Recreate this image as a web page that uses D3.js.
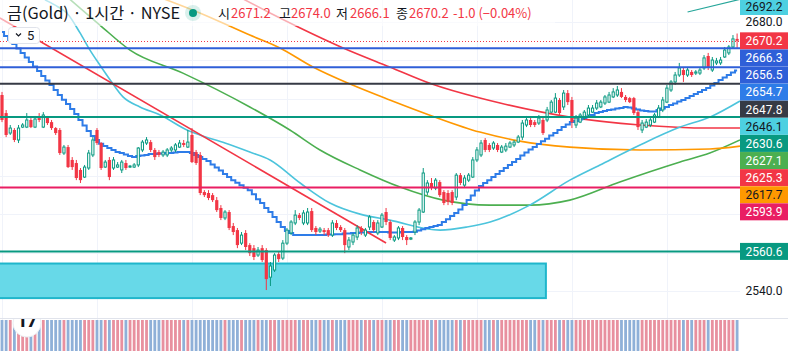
<!DOCTYPE html>
<html><head><meta charset="utf-8">
<script src="https://cdn.jsdelivr.net/npm/d3@7"></script>
<style>html,body{margin:0;padding:0;background:#fff;overflow:hidden}svg{display:block}</style>
</head><body><svg id="c" width="788" height="351"></svg>
<script>
// ---------- DATA ----------
const opens=[2642.0,2632.6,2622.2,2623.8,2618.6,2625.3,2625.3,2629.0,2625.3,2630.0,
2625.3,2630.0,2627.9,2624.8,2623.8,2611.8,2614.9,2608.2,2606.6,2603.0,
2599.3,2604.0,2610.8,2623.8,2617.0,2604.5,2608.2,2604.0,2604.5,2603.0,
2606.6,2604.5,2604.5,2605.6,2613.4,2617.0,2617.5,2613.4,2612.3,2610.8,
2610.8,2613.4,2613.4,2614.9,2617.0,2614.9,2621.2,2612.3,2610.8,2591.5,
2591.0,2589.9,2587.3,2583.2,2578.0,2581.1,2573.8,2571.7,2564.9,2570.2,
2563.9,2562.3,2558.7,2562.3,2561.3,2547.2,2550.9,2559.2,2557.1,2564.9,
2570.2,2575.4,2579.5,2575.4,2575.4,2581.6,2572.8,2571.2,2571.7,2571.7,
2569.1,2575.4,2573.3,2571.7,2562.9,2565.5,2568.1,2572.8,2569.1,2573.3,
2575.9,2570.2,2573.3,2581.1,2575.9,2566.5,2567.6,2572.8,2568.1,2567.0,
2570.7,2575.9,2581.1,2591.5,2596.2,2593.6,2596.7,2591.5,2591.0,2591.5,
2588.9,2600.3,2595.1,2597.7,2599.3,2608.2,2610.8,2618.6,2616.0,2614.4,
2616.0,2612.3,2613.4,2614.9,2616.0,2617.5,2620.1,2626.4,2629.0,2627.9,
2627.4,2629.0,2629.0,2633.1,2633.1,2639.4,2635.8,2643.0,2639.4,2626.4,
2627.9,2630.0,2631.6,2633.1,2635.2,2635.8,2637.8,2638.3,2641.0,2642.0,
2643.6,2641.0,2640.4,2640.4,2633.1,2623.8,2625.3,2626.4,2627.9,2630.5,
2634.2,2638.3,2644.6,2648.8,2652.4,2655.0,2652.4,2654.0,2653.4,2653.4,
2656.1,2662.3,2655.0,2658.7,2658.7,2661.8,2663.9,2667.0,2671.2];
const closes=[2629.0,2621.2,2624.8,2618.6,2624.8,2626.4,2629.0,2625.3,2629.5,2629.0,
2631.6,2627.4,2624.8,2622.2,2611.8,2614.9,2604.5,2604.5,2598.8,2597.7,
2604.5,2611.8,2618.6,2617.0,2604.0,2607.1,2599.3,2608.2,2605.6,2607.1,
2604.0,2605.0,2605.6,2614.4,2617.5,2618.6,2613.4,2609.7,2610.8,2612.3,
2613.4,2614.4,2616.0,2617.0,2616.0,2617.5,2607.1,2606.6,2591.0,2589.9,
2588.4,2587.3,2582.1,2578.0,2581.1,2572.8,2570.7,2563.9,2569.1,2562.9,
2559.7,2557.7,2561.3,2556.1,2546.2,2553.0,2558.7,2556.6,2564.9,2571.7,
2575.9,2579.5,2578.0,2580.6,2581.1,2571.7,2570.7,2572.2,2570.7,2569.1,
2575.4,2572.8,2571.7,2563.9,2566.5,2569.1,2572.8,2570.7,2571.7,2578.5,
2571.7,2575.4,2579.5,2575.9,2567.6,2568.1,2572.8,2568.1,2566.5,2567.6,
2575.9,2582.1,2601.4,2596.2,2594.1,2597.7,2589.9,2585.8,2586.3,2585.8,
2600.3,2596.2,2598.8,2600.3,2608.2,2613.4,2617.0,2613.4,2613.4,2617.0,
2613.4,2614.9,2615.4,2617.0,2617.5,2620.1,2627.4,2629.0,2626.4,2626.4,
2630.0,2622.2,2634.2,2638.3,2640.4,2632.6,2643.0,2638.3,2627.9,2630.0,
2631.6,2633.1,2635.2,2635.2,2637.8,2638.3,2641.0,2642.0,2643.6,2644.6,
2641.0,2639.4,2638.3,2632.6,2625.3,2627.4,2627.9,2629.0,2631.6,2635.2,
2639.4,2645.6,2648.8,2652.4,2656.1,2652.4,2655.0,2652.4,2654.0,2655.0,
2661.3,2656.1,2660.2,2659.7,2660.2,2665.4,2667.0,2671.2,2670.2];
const highs=[2643.6,2634.2,2626.4,2624.8,2626.4,2627.4,2632.6,2630.0,2631.1,2632.6,
2633.1,2631.1,2629.0,2625.3,2624.8,2616.0,2616.0,2609.7,2608.2,2604.0,
2605.6,2613.4,2620.1,2624.8,2617.5,2608.2,2609.7,2609.7,2607.1,2608.2,
2608.2,2605.6,2606.6,2614.9,2618.6,2620.1,2618.6,2614.4,2613.4,2613.4,
2614.4,2615.4,2617.0,2618.6,2618.6,2623.8,2624.8,2613.4,2612.3,2592.5,
2592.5,2591.0,2588.9,2584.7,2582.1,2582.1,2575.4,2572.8,2570.7,2571.7,
2564.9,2563.9,2562.9,2563.9,2562.3,2555.1,2559.7,2560.3,2566.5,2572.8,
2576.9,2582.1,2580.6,2582.1,2583.2,2583.2,2573.8,2573.3,2572.8,2572.8,
2576.9,2576.9,2574.3,2572.8,2568.1,2570.2,2574.3,2573.8,2572.8,2579.5,
2576.9,2576.9,2580.6,2583.2,2576.9,2569.1,2573.8,2573.8,2569.1,2568.1,
2576.9,2583.2,2604.0,2597.7,2598.8,2598.8,2597.7,2592.5,2592.5,2592.5,
2601.4,2601.4,2600.3,2601.4,2609.7,2614.9,2618.6,2619.6,2617.0,2618.0,
2617.0,2616.0,2617.0,2618.0,2618.6,2621.2,2629.0,2631.1,2630.5,2629.0,
2631.6,2630.5,2635.8,2639.4,2643.0,2640.4,2644.6,2644.6,2641.0,2631.6,
2632.6,2634.2,2636.8,2636.8,2639.4,2639.4,2642.0,2643.6,2645.6,2646.7,
2645.6,2642.0,2641.0,2641.0,2634.2,2629.0,2629.5,2630.5,2632.6,2636.8,
2641.0,2647.2,2649.8,2654.0,2658.7,2656.1,2656.6,2655.0,2655.0,2656.6,
2662.8,2663.9,2661.8,2661.3,2661.8,2667.0,2668.0,2673.2,2674.0];
const lows=[2627.9,2620.1,2621.2,2617.5,2617.0,2624.8,2624.8,2624.8,2624.8,2627.9,
2624.8,2626.4,2623.8,2621.2,2610.8,2610.8,2604.0,2603.0,2597.7,2596.2,
2598.8,2603.0,2609.7,2616.0,2603.0,2604.0,2597.7,2603.0,2604.0,2601.4,
2603.0,2604.0,2604.0,2604.5,2612.3,2616.0,2612.3,2608.2,2609.7,2609.7,
2609.7,2612.3,2612.3,2614.4,2614.9,2614.4,2606.6,2605.6,2589.9,2588.9,
2587.3,2586.3,2581.1,2576.9,2576.9,2571.7,2569.1,2562.3,2563.9,2561.3,
2558.2,2556.1,2557.7,2555.1,2540.5,2542.6,2549.9,2555.1,2556.1,2563.9,
2569.1,2574.3,2576.9,2574.3,2574.3,2570.7,2569.1,2570.2,2569.1,2568.1,
2568.1,2571.7,2570.7,2559.7,2561.3,2563.9,2566.5,2569.1,2568.1,2571.7,
2570.7,2569.1,2572.8,2574.3,2566.5,2565.5,2566.5,2566.5,2563.9,2566.5,
2569.1,2574.3,2580.6,2589.9,2592.5,2592.5,2588.9,2584.7,2584.7,2584.7,
2587.3,2595.1,2594.1,2596.7,2598.8,2607.1,2609.7,2612.3,2612.3,2613.4,
2612.3,2611.8,2612.3,2614.4,2614.9,2617.0,2618.6,2625.3,2625.3,2625.3,
2626.4,2621.2,2627.9,2632.6,2632.6,2631.6,2634.2,2636.8,2624.8,2624.8,
2627.4,2629.0,2630.5,2632.6,2634.2,2635.2,2636.8,2637.8,2640.4,2641.0,
2640.4,2638.3,2637.8,2631.6,2623.8,2622.2,2624.8,2625.3,2627.4,2630.0,
2633.1,2637.8,2643.6,2647.2,2651.4,2648.8,2651.4,2651.4,2652.4,2652.4,
2655.0,2655.0,2654.0,2657.6,2657.6,2661.3,2662.8,2666.5,2666.1];
// stepped blue average, one value per bar
const blueStep=[2674.8,2672.7,2670.6,2668.5,2666.2,2663.9,2661.5,2659.2,2656.8,2654.5,
2651.9,2649.5,2647.2,2644.6,2642.0,2639.6,2637.3,2634.7,2632.1,2629.0,
2626.1,2623.3,2620.7,2618.6,2616.7,2615.4,2614.4,2613.4,2612.3,2611.8,
2611.0,2610.2,2609.7,2610.2,2610.5,2610.8,2611.3,2611.3,2611.5,2611.5,
2611.8,2611.8,2612.1,2612.3,2612.3,2612.3,2611.8,2610.8,2609.7,2608.7,
2607.6,2605.8,2604.3,2602.7,2600.9,2599.3,2597.7,2596.4,2595.1,2593.8,
2592.5,2590.4,2587.8,2585.8,2583.2,2581.1,2578.5,2575.9,2573.3,2571.2,
2570.2,2569.1,2569.1,2569.1,2569.1,2569.1,2569.1,2569.1,2569.1,2569.4,
2569.4,2569.6,2569.6,2569.9,2569.9,2570.2,2570.2,2570.4,2570.4,2570.7,
2570.7,2570.7,2570.7,2570.7,2570.4,2570.4,2570.4,2570.7,2570.7,2570.7,
2570.9,2571.5,2572.2,2572.8,2573.3,2573.8,2574.3,2575.9,2577.4,2579.0,
2580.6,2582.4,2584.7,2587.3,2589.7,2592.3,2594.6,2596.2,2597.7,2599.3,
2600.9,2602.4,2604.0,2605.6,2607.1,2608.7,2610.5,2612.1,2613.6,2614.9,
2616.5,2618.0,2619.3,2620.9,2622.2,2623.8,2625.3,2626.6,2627.9,2628.5,
2629.2,2630.0,2630.8,2631.6,2632.6,2633.1,2633.7,2634.2,2634.4,2635.0,
2635.2,2635.8,2635.5,2635.0,2634.4,2633.9,2633.7,2633.4,2633.4,2634.2,
2635.0,2635.8,2636.8,2637.6,2638.6,2639.4,2640.4,2641.5,2642.5,2643.6,
2644.6,2645.6,2646.9,2648.2,2649.8,2651.1,2652.4,2653.7,2654.7];
// smooth averages: [bar index, price]
const cyanMA=[[10.4,2691.5],[13.6,2687.8],[15.7,2684.7],[18.9,2674.3],[21.3,2665.4],[23.7,2657.6],[26.2,2649.8],[29.3,2641.0],[33.4,2635.8],[38.3,2631.6],[44.8,2623.8],[47.9,2621.2],[54.0,2617.0],[60.0,2612.3],[64.9,2608.2],[72.2,2596.2],[79.4,2585.8],[86.7,2580.0],[93.9,2576.9],[106.1,2571.7],[112.6,2573.3],[118.2,2575.9],[127.8,2584.7],[137.5,2597.7],[144.8,2605.6],[154.5,2616.0],[164.2,2625.3],[171.4,2630.5],[178.7,2638.9]];
const redMA=[[57.5,2693.0],[64.9,2684.7],[72.2,2676.9],[82.6,2666.5],[93.9,2656.6],[104.1,2647.7],[115.7,2640.4],[120.6,2637.8],[137.5,2630.5],[154.5,2626.4],[171.4,2624.8],[178.7,2624.8]];
const orangeMA=[[38.0,2693.0],[47.9,2684.7],[60.0,2673.2],[67.3,2666.5],[75.3,2656.6],[84.3,2647.7],[93.9,2639.4],[104.1,2631.1],[115.7,2622.7],[125.4,2618.0],[137.5,2614.9],[154.5,2613.4],[171.4,2613.9],[178.7,2615.4]];
const greenMA=[[15.8,2693.0],[23.7,2678.4],[31.0,2665.4],[43.8,2653.4],[60.0,2635.8],[69.7,2623.8],[77.0,2613.4],[86.7,2603.0],[96.4,2594.1],[106.8,2587.3],[118.2,2584.7],[127.8,2584.7],[137.5,2587.3],[149.6,2596.7],[164.2,2607.1],[171.4,2611.8],[178.7,2618.6]];
// drawings
const redTrend=[[-0.5,2682.1],[93,2565.0]];
const tealTrend=[[166,2685.2],[179.5,2692.2]];
const levelPrices=[2666.3,2656.5,2647.8,2630.6,2593.9,2560.6];
const boxPrices=[2554.3,2536.3]; const boxBars=[-1,131.7];
const lastPrice=2670.2;
const gridPrices=[2540,2560,2580,2600,2620,2640,2660,2680];
const gridBars=[0,23,46,69,92,115,138,161];
const tickLabels=[2680.0,2540.0];
const axisLabelValues=[2692.2,2670.2,2666.3,2656.5,2654.7,2647.8,2646.1,2630.6,2627.1,2625.3,2617.7,2593.9,2560.6];
const titleText="금(Gold) · 1시간 · NYSE";
const ohlcNames=["시","고","저","종"];
const ohlcValues=["2671.2","2674.0","2666.1","2670.2"];
const changeText="-1.0 (−0.04%)";
const intervalText="5";

// ---------- STYLE ----------
const UP="#089981", DN="#f23645";
const levelColors=["#2f5fd8","#2f5fd8","#363a45","#089981","#e91e63","#089981"];
const labelBg=["#4dd0e1","#f23645","#2f5fd8","#2f5fd8","#2e7ce8","#363a45","#4dd0e1","#089981","#4caf50","#f23645","#ff9800","#e91e63","#089981"];
const labelFg=["#131722","#fff","#fff","#fff","#fff","#fff","#131722","#fff","#fff","#fff","#131722","#fff","#fff"];

const svg=d3.select("#c");
const PR=740, PB=318;
const x=d3.scaleLinear().domain([0,178]).range([2,737.1]);
const y=d3.scaleLinear().domain([2540,2680]).range([291,22]);

const defs=svg.append("defs");
defs.append("clipPath").attr("id","pc").append("rect").attr("x",0).attr("y",0).attr("width",PR).attr("height",PB);
defs.append("clipPath").attr("id","vc").append("rect").attr("x",0).attr("y",PB+1).attr("width",PR).attr("height",351-PB);

// grid
const g0=svg.append("g");
g0.selectAll("line.v").data(gridBars).join("line").attr("x1",d=>Math.round(x(d))+0.5).attr("x2",d=>Math.round(x(d))+0.5).attr("y1",0).attr("y2",351).attr("stroke","#f0f3fa");
g0.selectAll("line.h").data(gridPrices).join("line").attr("x1",0).attr("x2",PR).attr("y1",d=>Math.round(y(d))+0.5).attr("y2",d=>Math.round(y(d))+0.5).attr("stroke","#f0f3fa");

const gp=svg.append("g").attr("clip-path","url(#pc)");
// box
gp.append("rect").attr("x",x(boxBars[0])).attr("y",y(boxPrices[0])).attr("width",x(boxBars[1])-x(boxBars[0])).attr("height",y(boxPrices[1])-y(boxPrices[0]))
  .attr("fill","#67d9e8").attr("stroke","#1fb6cb").attr("stroke-width",2);

// MAs
const line=d3.line().x(d=>x(d[0])).y(d=>y(d[1])).curve(d3.curveMonotoneX);
[[greenMA,"#4caf50"],[orangeMA,"#ff9800"],[redMA,"#f23645"],[cyanMA,"#4cc4dc"]].forEach(([d,c])=>{
  gp.append("path").datum(d).attr("d",line).attr("fill","none").attr("stroke",c).attr("stroke-width",1.6);
});
const stepLine=d3.line().x((d,i)=>x(i)).y(d=>y(d)).curve(d3.curveStep);
gp.append("path").datum(blueStep).attr("d",stepLine).attr("fill","none").attr("stroke","#2e7ce8").attr("stroke-width",2);

// trend lines
const sl=d3.line().x(d=>x(d[0])).y(d=>y(d[1]));
gp.append("path").datum(redTrend).attr("d",sl).attr("stroke","#f23645").attr("stroke-width",1.6).attr("fill","none");
gp.append("path").datum(tealTrend).attr("d",sl).attr("stroke","#26a69a").attr("stroke-width",1.2).attr("fill","none");

// candles
const cg=gp.append("g");
d3.range(opens.length).forEach(i=>{
  const o=opens[i],c=closes[i],h=highs[i],l=lows[i],cx=x(i);
  const up=c>=o;
  const top=y(Math.max(o,c)), bot=y(Math.min(o,c));
  if(up){
    cg.append("line").attr("x1",cx).attr("x2",cx).attr("y1",y(h)).attr("y2",top).attr("stroke",UP);
    cg.append("line").attr("x1",cx).attr("x2",cx).attr("y1",bot).attr("y2",y(l)).attr("stroke",UP);
    cg.append("rect").attr("x",cx-1.1).attr("y",top).attr("width",2.2).attr("height",Math.max(bot-top,0.8)).attr("fill","#fff").attr("stroke",UP).attr("stroke-width",1);
  } else {
    cg.append("line").attr("x1",cx).attr("x2",cx).attr("y1",y(h)).attr("y2",y(l)).attr("stroke",DN);
    cg.append("rect").attr("x",cx-1.6).attr("y",top).attr("width",3.2).attr("height",Math.max(bot-top,1)).attr("fill",DN);
  }
});

// horizontal levels
gp.selectAll("line.lv").data(levelPrices).join("line").attr("x1",0).attr("x2",PR).attr("y1",d=>y(d)).attr("y2",d=>y(d))
  .attr("stroke",(d,i)=>levelColors[i]).attr("stroke-width",2);
// last price dotted
gp.append("line").attr("x1",0).attr("x2",PR).attr("y1",Math.round(y(lastPrice))+0.5).attr("y2",Math.round(y(lastPrice))+0.5)
  .attr("stroke",DN).attr("stroke-dasharray","1,2");

// volume pane
svg.append("line").attr("x1",0).attr("x2",788).attr("y1",PB+0.5).attr("y2",PB+0.5).attr("stroke","#e0e3eb");
const vg=svg.append("g").attr("clip-path","url(#vc)");
vg.selectAll("rect").data(d3.range(opens.length)).join("rect").attr("x",i=>x(i)-1.4).attr("width",2.8).attr("y",320).attr("height",31)
  .attr("fill",i=>closes[i]>=opens[i]?"#e8909f":"#8fb0d8");
// logo
const lg=svg.append("g").attr("clip-path","url(#vc)");
lg.append("circle").attr("cx",27).attr("cy",323).attr("r",14).attr("fill","#fff").attr("stroke","#eceff3");
lg.append("text").attr("x",27).attr("y",327).attr("text-anchor","middle").attr("font-family","Roboto").attr("font-weight",900).attr("font-size",17).attr("fill","#131722").text("17");

// header
svg.append("rect").attr("x",0).attr("y",0).attr("width",555).attr("height",26).attr("fill","#fff").attr("opacity",0.6);
svg.append("text").attr("x",7).attr("y",19).attr("font-family","'Noto Sans CJK KR'").attr("font-size",16.3).attr("fill","#131722").text(titleText);
svg.append("circle").attr("cx",193).attr("cy",13).attr("r",8).attr("fill","#089981").attr("opacity",0.15);
svg.append("circle").attr("cx",193).attr("cy",13).attr("r",4).attr("fill","#089981");
const nameX=[218,279,336,396], valX=[231,291,350,409];
const ht=svg.append("g").attr("font-family","'Noto Sans CJK KR'").attr("font-size",13);
ohlcNames.forEach((n,i)=>{
  ht.append("text").attr("x",nameX[i]).attr("y",18).attr("fill","#131722").text(n);
  ht.append("text").attr("x",valX[i]).attr("y",18).attr("fill",DN).text(ohlcValues[i]);
});
ht.append("text").attr("x",453).attr("y",18).attr("fill",DN).text(changeText);

// interval box
svg.append("rect").attr("x",8.5).attr("y",27.5).attr("width",31).attr("height",16).attr("rx",3).attr("fill","#fff").attr("stroke","#e0e3eb");
svg.append("path").attr("d","M16,33.5 L18.5,36 L21,33.5").attr("fill","none").attr("stroke","#131722").attr("stroke-width",1.2);
svg.append("text").attr("x",27).attr("y",40).attr("font-family","Roboto").attr("font-size",13).attr("fill","#131722").text(intervalText);

// price axis
const ag=svg.append("g").attr("font-family","Roboto").attr("font-size",12);
ag.selectAll("text.t").data(tickLabels).join("text").attr("x",764).attr("y",d=>y(d)+4).attr("text-anchor","middle").attr("fill","#131722").text(d=>d.toFixed(1));
// stacked labels
let prev=null; const LH=17.1;
const pos=axisLabelValues.map(v=>{let p=Math.max(y(v),6.5); if(prev!==null && p<prev+LH) p=prev+LH; if(prev===null||v<2680) prev=p; return p;});
pos[1]=Math.max(pos[1],y(axisLabelValues[1]));
axisLabelValues.forEach((v,i)=>{
  const cy=pos[i];
  ag.append("rect").attr("x",740).attr("y",cy-8.5).attr("width",48).attr("height",17).attr("fill",labelBg[i]);
  ag.append("text").attr("x",764).attr("y",cy+4.3).attr("text-anchor","middle").attr("fill",labelFg[i]).text(v.toFixed(1));
});
</script></body></html>
